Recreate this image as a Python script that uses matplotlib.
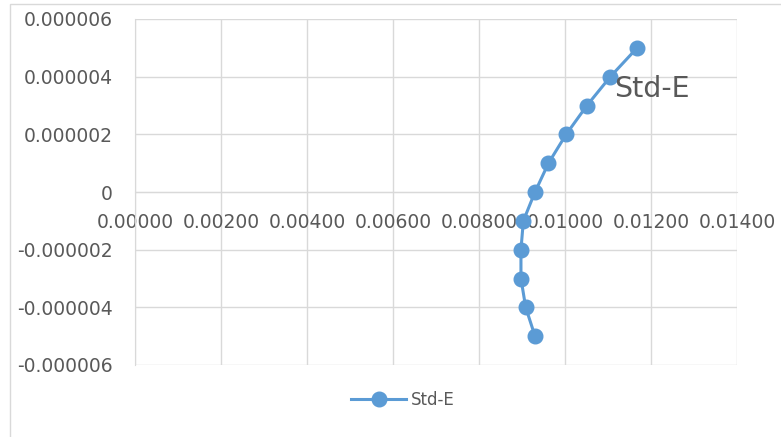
import matplotlib.pyplot as plt
from matplotlib.patches import Rectangle
from matplotlib.ticker import FuncFormatter

# Werte
x_werte = [0.011678, 0.011054, 0.010509, 0.010026, 0.009614, 0.009301,
           0.009030, 0.008974, 0.008974, 0.009084, 0.009301]
y_werte = [5e-6, 4e-6, 3e-6, 2e-6, 1e-6, 0.0,
           -1e-6, -2e-6, -3e-6, -4e-6, -5e-6]
serie = "Std-E"
x_ticks = [0.0, 0.002, 0.004, 0.006, 0.008, 0.010, 0.012, 0.014]
y_ticks = [-6e-6, -4e-6, -2e-6, 0.0, 2e-6, 4e-6, 6e-6]

blau = "#5B9BD5"
grau = "#595959"
gitter = "#d9d9d9"

fig = plt.figure(figsize=(7.81, 4.37), dpi=100)
ax = fig.add_axes([135.2 / 781, 1 - 365 / 437, (737 - 135.2) / 781, (365 - 19) / 437])

# Rahmen um das Diagramm
fig.patches.append(Rectangle((10 / 781, -0.1), 1.2, 1 - 4 / 437 + 0.1,
                             transform=fig.transFigure, fill=False,
                             edgecolor=gitter, linewidth=1))

ax.plot(x_werte, y_werte, color=blau, linewidth=2.2, marker="o",
        markersize=10.5, label=serie, zorder=3)
ax.annotate(serie, (x_werte[1], y_werte[1]), xytext=(3, -9),
            textcoords="offset points", fontsize=20.5, color=grau,
            ha="left", va="center")

ax.set_xlim(0, 0.014)
ax.set_ylim(-6e-6, 6e-6)
ax.set_xticks(x_ticks)
ax.set_yticks(y_ticks)
ax.xaxis.set_major_formatter(FuncFormatter(lambda v, p: f"{v:.5f}"))
ax.yaxis.set_major_formatter(
    FuncFormatter(lambda v, p: "0" if abs(v) < 1e-12 else f"{v:.6f}"))

ax.grid(True, color=gitter, linewidth=1)
ax.set_axisbelow(True)
for s in ["top", "right"]:
    ax.spines[s].set_visible(False)
ax.spines["bottom"].set_position(("data", 0))
ax.spines["bottom"].set_color(gitter)
ax.spines["left"].set_color(gitter)
ax.tick_params(axis="both", length=0, labelsize=13.5, labelcolor=grau)
ax.tick_params(axis="x", pad=15)
ax.tick_params(axis="y", pad=16)

fig.legend(loc="center", bbox_to_anchor=(403 / 781, 1 - 400 / 437),
           frameon=False, fontsize=12, labelcolor=grau, handlelength=3.3,
           handletextpad=0.3)

fig.savefig("out.png", dpi=100)
